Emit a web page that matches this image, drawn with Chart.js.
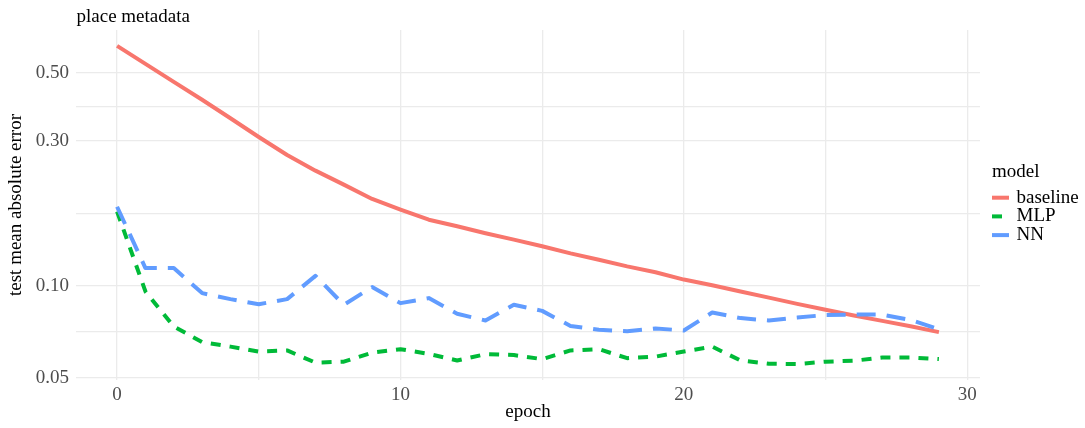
<!DOCTYPE html>
<html>
<head>
<meta charset="utf-8">
<title>place metadata</title>
<script src="https://cdn.jsdelivr.net/npm/chart.js@4.4.1/dist/chart.umd.min.js"></script>
<style>
  html, body { margin: 0; padding: 0; background: #fff; }
  #wrap { width: 1085px; height: 428px; }
</style>
</head>
<body>
<div id="wrap"><canvas id="maeChart" width="1085" height="428"></canvas></div>
<script>
// data
const epochs = [0, 1, 2, 3, 4, 5, 6, 7, 8, 9, 10, 11, 12, 13, 14, 15, 16, 17, 18, 19, 20, 21, 22, 23, 24, 25, 26, 27, 28, 29];
const baseline = [0.613, 0.535, 0.467, 0.408, 0.355, 0.308, 0.269, 0.239, 0.215, 0.193, 0.178, 0.165, 0.157, 0.149, 0.142, 0.135, 0.128, 0.122, 0.116, 0.111, 0.105, 0.1006, 0.0960, 0.0916, 0.0874, 0.0836, 0.0801, 0.0769, 0.0738, 0.0706];
const mlp = [0.1755, 0.0960, 0.0737, 0.0655, 0.0633, 0.0610, 0.0615, 0.0561, 0.0565, 0.0605, 0.0621, 0.0599, 0.0570, 0.0598, 0.0594, 0.0576, 0.0615, 0.0621, 0.0580, 0.0587, 0.0610, 0.0633, 0.0570, 0.0556, 0.0555, 0.0565, 0.0569, 0.0583, 0.0583, 0.0576];
const nn = [0.182, 0.1145, 0.1145, 0.0948, 0.0906, 0.0872, 0.0906, 0.108, 0.0868, 0.0992, 0.0879, 0.0913, 0.0811, 0.0771, 0.0868, 0.0829, 0.0740, 0.0719, 0.0711, 0.0726, 0.0715, 0.0819, 0.0785, 0.0771, 0.0788, 0.0804, 0.0806, 0.0806, 0.0774, 0.0722];

const modelNames = ['baseline', 'MLP', 'NN'];
const xTicks = [0, 10, 20, 30];
const xTickLabels = ['0', '10', '20', '30'];
const yTicks = [0.05, 0.1, 0.3, 0.5];
const yTickLabels = ['0.05', '0.10', '0.30', '0.50'];

const FONT = '"Liberation Serif", "Times New Roman", serif';
const gridColor = '#ebebeb';

// minor breaks sit half way between majors (in transformed space, like ggplot)
const xMinor = xTicks.slice(1).map((v, i) => (v + xTicks[i]) / 2);
const yMinor = yTicks.slice(1).map((v, i) => Math.sqrt(v * yTicks[i]));

const toPoints = (ys) => ys.map((y, i) => ({ x: epochs[i], y: y }));

Chart.defaults.font.family = FONT;
Chart.defaults.font.size = 19;
Chart.defaults.color = '#000';

// title + legend drawn by hand so they sit where ggplot put them
const decorPlugin = {
    id: 'decor',
    afterDraw(chart) {
        const ctx = chart.ctx;
        ctx.save();
        ctx.font = '19px ' + FONT;
        ctx.fillStyle = '#000';
        ctx.textBaseline = 'alphabetic';
        ctx.fillText('place metadata', 76.5, 21.7);

        ctx.textBaseline = 'middle';
        ctx.fillText('model', 992, 172);
        chart.data.datasets.forEach((ds, i) => {
            const y = 197.7 + i * 18.7;
            ctx.beginPath();
            ctx.strokeStyle = ds.borderColor;
            ctx.lineWidth = ds.borderWidth;
            ctx.lineCap = 'butt';
            ctx.setLineDash(ds.borderDash || []);
            ctx.moveTo(992, y);
            ctx.lineTo(1009, y);
            ctx.stroke();
            ctx.setLineDash([]);
            ctx.fillText(ds.label, 1016.5, y);
        });
        ctx.restore();
    }
};

const ctx = document.getElementById('maeChart').getContext('2d');
new Chart(ctx, {
    type: 'line',
    data: {
        datasets: [
            {
                label: modelNames[0],
                data: toPoints(baseline),
                borderColor: '#F8766D',
                borderWidth: 4,
                order: 2
            },
            {
                label: modelNames[1],
                data: toPoints(mlp),
                borderColor: '#00BA38',
                borderWidth: 4,
                borderDash: [10, 9],
                order: 1
            },
            {
                label: modelNames[2],
                data: toPoints(nn),
                borderColor: '#619CFF',
                borderWidth: 4,
                borderDash: [19, 11],
                order: 0
            }
        ]
    },
    options: {
        responsive: false,
        animation: false,
        devicePixelRatio: 1,
        layout: { padding: { left: 0, top: 30, right: 105, bottom: 0 } },
        elements: {
            point: { radius: 0 },
            line: { tension: 0, fill: false, borderCapStyle: 'butt', borderJoinStyle: 'round' }
        },
        plugins: {
            legend: { display: false },
            title: { display: false },
            tooltip: { enabled: false }
        },
        scales: {
            x: {
                type: 'linear',
                min: -1.45,
                max: 30.45,
                afterBuildTicks: (scale) => {
                    scale.ticks = xTicks.concat(xMinor).sort((a, b) => a - b).map(v => ({ value: v }));
                },
                afterFit: (scale) => { scale.height = 48; },
                grid: { color: gridColor, lineWidth: 1.3, drawTicks: false },
                border: { display: false },
                ticks: {
                    autoSkip: false,
                    maxRotation: 0,
                    padding: 3.9,
                    color: '#4d4d4d',
                    callback: (v) => {
                        const k = xTicks.indexOf(v);
                        return k >= 0 ? xTickLabels[k] : '';
                    }
                },
                title: {
                    display: true,
                    text: 'epoch',
                    color: '#000',
                    padding: { top: 0, bottom: 4.7 }
                }
            },
            y: {
                type: 'logarithmic',
                min: 0.0492,
                max: 0.691,
                afterBuildTicks: (scale) => {
                    scale.ticks = yTicks.concat(yMinor).sort((a, b) => a - b).map(v => ({ value: v }));
                },
                afterFit: (scale) => { scale.width = 76; },
                grid: { color: gridColor, lineWidth: 1.3, drawTicks: false },
                border: { display: false },
                ticks: {
                    autoSkip: false,
                    padding: 7,
                    color: '#4d4d4d',
                    callback: (v) => {
                        const k = yTicks.indexOf(v);
                        return k >= 0 ? yTickLabels[k] : '';
                    }
                },
                title: {
                    display: true,
                    text: 'test mean absolute error',
                    color: '#000',
                    padding: { top: 4.9, bottom: 0 }
                }
            }
        }
    },
    plugins: [decorPlugin]
});
</script>
</body>
</html>
